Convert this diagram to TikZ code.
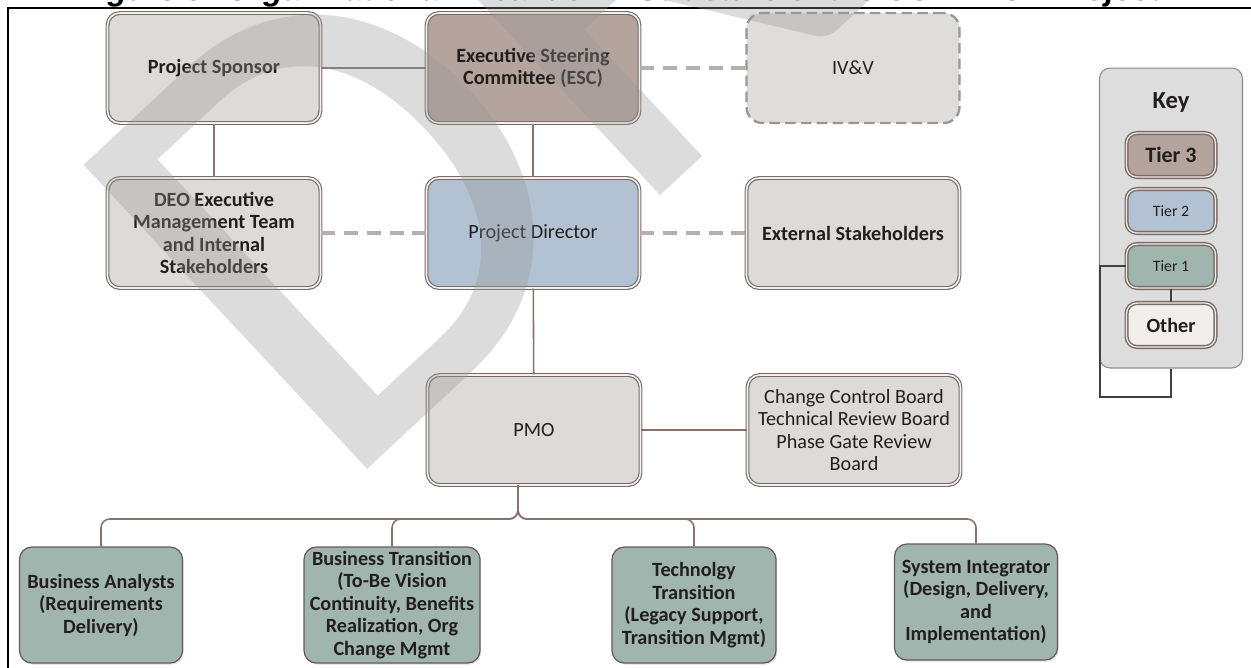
\documentclass[tikz,border=0pt]{standalone}
\usepackage{fontspec}
\setmainfont{Carlito}
\newfontfamily\titlefont{Liberation Sans}
\usepackage{tikz}
\usetikzlibrary{positioning, shadows}
\definecolor{boxfill}{RGB}{221, 219, 218}
\definecolor{boxline}{RGB}{122, 106, 100}
\definecolor{tierthree}{RGB}{181, 164, 158}
\definecolor{tiertwo}{RGB}{178, 194, 210}
\definecolor{tierone}{RGB}{160, 181, 174}
\definecolor{otherfill}{RGB}{242, 238, 236}
\definecolor{keyfill}{RGB}{222, 221, 221}
\definecolor{linkcolor}{RGB}{135, 115, 108}
\definecolor{dashcolor}{RGB}{182, 176, 172}
\definecolor{wmgray}{RGB}{150, 150, 150}
\definecolor{inkcolor}{RGB}{34, 30, 30}

\begin{document}
\begin{tikzpicture}[
    x=0.02cm, y=-0.02cm,
    org_box/.style={draw=boxline, line width=0.65pt, double=white!60!boxfill, double distance=0.9pt, fill=boxfill, text=inkcolor, rounded corners=7pt, minimum width=4.26cm, minimum height=2.2cm, inner sep=1pt, align=center, font=\fontsize{11.5}{12.8}\selectfont, drop shadow={opacity=0.25, shadow xshift=0.7pt, shadow yshift=-0.9pt}},
    ivv_box/.style={draw=dashcolor!85!black, line width=1.3pt, dash pattern=on 6pt off 3pt, fill=boxfill!95!white, text=inkcolor, rounded corners=9pt, minimum width=4.26cm, minimum height=2.2cm, align=center, font=\fontsize{11.5}{12.8}\selectfont},
    team_box/.style={draw=boxline!85!black, line width=0.7pt, fill=tierone, text=inkcolor, rounded corners=7pt, minimum width=3.26cm, minimum height=2.32cm, inner sep=1pt, align=center, font=\fontsize{11.5}{12.8}\selectfont\bfseries, drop shadow={opacity=0.25, shadow xshift=0.7pt, shadow yshift=-0.9pt}},
    key_box/.style={draw=boxline!80, line width=0.6pt, fill=keyfill, rounded corners=6pt, minimum width=2.86cm, minimum height=6cm},
    tier_box/.style={draw=boxline, line width=0.8pt, double=white!50!boxfill, double distance=0.7pt, text=inkcolor, rounded corners=6pt, minimum width=1.78cm, minimum height=0.88cm, inner sep=1pt, drop shadow={opacity=0.2, shadow xshift=0.5pt, shadow yshift=-0.7pt}},
    top_link/.style={linkcolor, line width=1.4pt},
    link/.style={linkcolor, line width=0.9pt},
    dash_link/.style={dashcolor, line width=2pt, dash pattern=on 8pt off 5pt},
    bus/.style={linkcolor, line width=0.9pt, rounded corners=5pt},
    key_line/.style={black!75, line width=0.7pt},
    watermark/.style={anchor=base west, inner sep=0pt, rotate=43, text=wmgray, text opacity=0.33, font=\fontsize{369}{400}\selectfont}
]
    \useasboundingbox (0,0) rectangle (1251,667);
    \clip (0,0) rectangle (1251,667);

    % Title and frame
    \node[anchor=base, inner sep=0pt, font=\titlefont\bfseries\itshape\fontsize{18.2}{20}\selectfont] (title) at (620,0) {Figure 3: Organizational Breakdown Structure of the CONNECT Project};
    \draw[black, line width=1.1pt] (8,8) rectangle (1258,675);

    % Upper tiers
    \node[org_box, font=\fontsize{11.5}{12.8}\selectfont\bfseries] (sponsor) at (214,68) {Project Sponsor};
    \node[org_box, fill=tierthree, font=\fontsize{11.5}{12.8}\selectfont\bfseries] (esc) at (533,68) {Executive Steering\\Committee (ESC)};
    \node[ivv_box] (ivv) at (853,68) {IV\&V};
    \node[org_box, font=\fontsize{11.5}{12.8}\selectfont\bfseries] (deo) at (214,233) {DEO Executive\\Management Team\\and Internal\\Stakeholders};
    \node[org_box, fill=tiertwo] (director) at (533,233) {Project Director};
    \node[org_box, font=\fontsize{11.5}{12.8}\selectfont\bfseries] (external) at (853,233) {External Stakeholders};
    \node[org_box] (pmo) at (534,430) {PMO};
    \node[org_box] (boards) at (854,430) {Change Control Board\\Technical Review Board\\Phase Gate Review\\Board};

    % Teams
    \node[team_box] (analysts) at (101,605) {Business Analysts\\(Requirements\\Delivery)};
    \node[team_box, minimum width=3.52cm] (bustrans) at (392,605) {Business Transition\\(To-Be Vision\\Continuity, Benefits\\Realization, Org\\Change Mgmt};
    \node[team_box, minimum width=3.28cm] (techtrans) at (694,605) {Technolgy\\Transition\\(Legacy Support,\\Transition Mgmt)};
    \node[team_box] (integrator) at (976,602) {System Integrator\\(Design, Delivery,\\and\\Implementation)};

    % Key
    \node[key_box] (key) at (1171,218) {};
    \node[text=inkcolor, font=\fontsize{14}{16}\selectfont\bfseries] (keytitle) at (1171,102) {Key};
    \node[tier_box, fill=tierthree, font=\fontsize{12.5}{14}\selectfont\bfseries] (tierthree) at (1171,155) {Tier 3};
    \node[tier_box, fill=tiertwo, font=\fontsize{9}{10}\selectfont] (tiertwo) at (1171,211) {Tier 2};
    \node[tier_box, fill=tierone, font=\fontsize{9}{10}\selectfont] (tierone) at (1171,266) {Tier 1};
    \node[tier_box, fill=otherfill, font=\fontsize{11.5}{13}\selectfont\bfseries] (other) at (1171,325) {Other};
    \coordinate (loop) at (1100,397);

    % Links
    \draw[top_link] (sponsor) -- (esc);
    \draw[dash_link] (esc) -- (ivv);
    \draw[link] (sponsor) -- (deo);
    \draw[link] (esc) -- (director);
    \draw[dash_link] (deo) -- (director);
    \draw[dash_link] (director) -- (external);
    \draw[link] (director) -- (pmo);
    \draw[link] (pmo) -- (boards);

    % Bus to teams
    \coordinate (stem) at ([xshift=-0.32cm]pmo.south);
    \coordinate (fork) at (518,519);
    \draw[bus] (stem) -- (fork) -| (analysts.north);
    \draw[bus] (stem) -- (fork) -| (bustrans.north);
    \draw[bus] (stem) -- (fork) -| (techtrans.north);
    \draw[bus] (stem) -- (fork) -| (integrator.north);

    % Key lines
    \draw[key_line] (tierone) -- (other);
    \draw[key_line] (tierone.west) -| (loop) -| (key.south);

    % Watermark
    \node[watermark] (draft) at (335,500) {DRAFT};
\end{tikzpicture}
\end{document}
